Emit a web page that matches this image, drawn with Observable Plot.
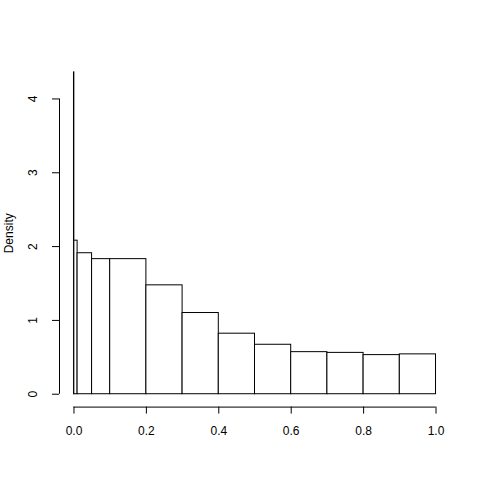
<!DOCTYPE html>
<html>
<head>
<meta charset="utf-8">
<script src="https://cdn.jsdelivr.net/npm/d3@7"></script>
<script src="https://cdn.jsdelivr.net/npm/@observablehq/plot@0.6"></script>
<style>
  html, body { margin: 0; padding: 0; background: #fff; }
  svg { font-family: "Liberation Sans", Arial, Helvetica, sans-serif; }
</style>
</head>
<body>
<div id="chart"></div>
<script>
// Histogram breaks (unequal widths) and densities
const breaks = [0, 0.001, 0.01, 0.05, 0.1, 0.2, 0.3, 0.4, 0.5, 0.6, 0.7, 0.8, 0.9, 1.0];
const densities = [4.36, 2.08, 1.91, 1.83, 1.83, 1.475, 1.10, 0.82, 0.67, 0.57, 0.56, 0.53, 0.54];
const xTicks = [0, 0.2, 0.4, 0.6, 0.8, 1.0];
const yTicks = [0, 1, 2, 3, 4];
const yLabel = "Density";

const bins = densities.map((d, i) => ({x1: breaks[i], x2: breaks[i + 1], density: d}));

const ymax = d3.max(densities);
const xDomain = [-0.04, 1.04];
const yDomain = [-0.04 * ymax, ymax * 1.04];

const chart = Plot.plot({
  width: 480,
  height: 480,
  marginLeft: 59,
  marginRight: 30,
  marginTop: 59,
  marginBottom: 73.4,
  style: {fontSize: "12px", fontFamily: "'Liberation Sans', Arial, Helvetica, sans-serif", color: "black", background: "white"},
  x: {domain: xDomain},
  y: {domain: yDomain},
  marks: [
    Plot.rect(bins, {x1: "x1", x2: "x2", y1: 0, y2: "density", fill: "white", stroke: "black", strokeWidth: 1}),
    Plot.axisX({ticks: xTicks, tickFormat: d3.format(".1f"), tickSize: 7, tickPadding: 12, label: null, stroke: "black"}),
    Plot.ruleY([yDomain[0]], {x1: xTicks[0], x2: xTicks[xTicks.length - 1], stroke: "black"}),
    Plot.axisY({ticks: yTicks, tickFormat: d3.format("d"), tickSize: 7, tickPadding: 16, tickRotate: -90,
      label: yLabel, labelAnchor: "center", labelArrow: "none", labelOffset: 55, stroke: "black"}),
    Plot.ruleX([xDomain[0]], {y1: yTicks[0], y2: yTicks[yTicks.length - 1], stroke: "black"})
  ]
});
document.getElementById("chart").appendChild(chart);
</script>
</body>
</html>
